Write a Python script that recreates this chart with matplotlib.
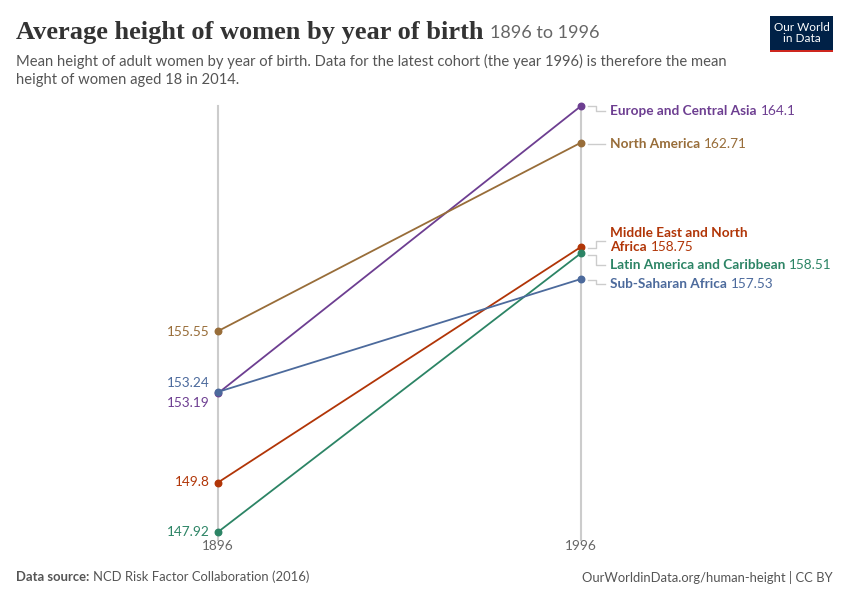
import matplotlib
matplotlib.use("Agg")
import matplotlib.pyplot as plt
from matplotlib.patches import Rectangle

regions = ["Europe and Central Asia", "North America", "Middle East and North Africa",
           "Latin America and Caribbean", "Sub-Saharan Africa"]
start_vals = [153.19, 155.55, 149.8, 147.92, 153.24]
end_vals = [164.1, 162.71, 158.75, 158.51, 157.53]
years = [1896, 1996]
colors = ["#6D3E91", "#986D39", "#B13507", "#2C8465", "#4C6A9C"]

W, H = 850, 600
fig = plt.figure(figsize=(8.5, 6), dpi=100)
fig.patch.set_facecolor("white")

def fx(px):
    return px / W

def fy(py):
    return 1 - py / H

# axes mapped so that 1896 -> x=218px, 1996 -> 581px; 147.92 -> y=532px, 164.1 -> y=106px
ax = fig.add_axes([fx(218), fy(532), fx(581) - fx(218), (532 - 106) / H])
ax.set_xlim(1896, 1996)
ax.set_ylim(147.92, 164.1)
ax.axis("off")

# vertical gridlines
for yr in years:
    ax.plot([yr, yr], [147.6, 164.1], color="#cccccc", lw=1.5, zorder=1, clip_on=False)

for r, s, e, c in zip(regions, start_vals, end_vals, colors):
    ax.plot(years, [s, e], color=c, lw=1.3, zorder=3, clip_on=False)
    ax.scatter(years, [s, e], color=c, s=22, zorder=4, clip_on=False)

font = "Lato"
lab_fs = 9.8

# left labels (pixel y positions)
left_y = {0: 403, 1: 332, 2: 482, 3: 532, 4: 383}
for i, py in left_y.items():
    fig.text(fx(210), fy(py), f"{start_vals[i]:g}", ha="right", va="center",
             color=colors[i], fontsize=lab_fs, family=font)

# x tick labels
for yr, px in zip(years, [218, 581]):
    fig.text(fx(px), fy(546), str(yr), ha="center", va="center", color="#666666",
             fontsize=lab_fs, family=font)

# right labels
lx = 610
right = [
    (0, [111], ["Europe and Central Asia"]),
    (1, [144], ["North America"]),
    (2, [233, 247], ["Middle East and North", "Africa"]),
    (3, [265], ["Latin America and Caribbean"]),
    (4, [284], ["Sub-Saharan Africa"]),
]
for i, pys, lines in right:
    for j, (py, t) in enumerate(zip(pys, lines)):
        if j == len(lines) - 1:
            tt = fig.text(fx(lx), fy(py), t, ha="left", va="center", color=colors[i],
                          fontsize=lab_fs, family=font, fontweight="bold")
            fig.canvas.draw()
            bb = tt.get_window_extent()
            fig.text(bb.x1 / W + 4 / W, fy(py), f"{end_vals[i]:g}", ha="left", va="center",
                     color=colors[i], fontsize=lab_fs, family=font)
        else:
            fig.text(fx(lx), fy(py), t, ha="left", va="center", color=colors[i],
                     fontsize=lab_fs, family=font, fontweight="bold")

# connector lines (pixel coords): from point to label
conn = [
    [(588, 106), (596, 106), (596, 111), (605, 111)],
    [(588, 144), (605, 144)],
    [(588, 248), (596, 248), (596, 241), (605, 241)],
    [(588, 255), (596, 255), (596, 265), (605, 265)],
    [(588, 280), (596, 280), (596, 284), (605, 284)],
]
for pts in conn:
    xs = [fx(p[0]) for p in pts]
    ys = [fy(p[1]) for p in pts]
    fig.add_artist(plt.Line2D(xs, ys, color="#cccccc", lw=1, transform=fig.transFigure))

# title
t = fig.text(fx(16), fy(32), "Average height of women by year of birth", ha="left", va="center",
             fontsize=19, family="Liberation Serif", fontweight="bold", color="#333333")
fig.canvas.draw()
bb = t.get_window_extent()
fig.text(bb.x1 / W + 6 / W, fy(33), "1896 to 1996", ha="left", va="center",
         fontsize=13, family=font, color="#666666")

fig.text(fx(16), fy(61), "Mean height of adult women by year of birth. Data for the latest cohort (the year 1996) is therefore the mean",
         ha="left", va="center", fontsize=10.65, family=font, color="#555555")
fig.text(fx(16), fy(80), "height of women aged 18 in 2014.",
         ha="left", va="center", fontsize=10.65, family=font, color="#555555")

# logo
fig.add_artist(Rectangle((fx(770), fy(52)), fx(833) - fx(770), (52 - 16) / H,
                         transform=fig.transFigure, facecolor="#002147", edgecolor="none"))
fig.add_artist(Rectangle((fx(770), fy(52)), fx(833) - fx(770), 2.5 / H,
                         transform=fig.transFigure, facecolor="#CE261E", edgecolor="none"))
fig.text(fx(801.5), fy(33), "Our World\nin Data", ha="center", va="center", color="white",
         fontsize=8.5, family=font, linespacing=1.0)

# footer
s = fig.text(fx(16), fy(577), "Data source:", ha="left", va="center", fontsize=9.4,
             family=font, fontweight="bold", color="#555555")
fig.canvas.draw()
bb = s.get_window_extent()
fig.text(bb.x1 / W + 4 / W, fy(577), "NCD Risk Factor Collaboration (2016)", ha="left", va="center",
         fontsize=9.4, family=font, color="#555555")
fig.text(fx(833), fy(577), "OurWorldinData.org/human-height | CC BY", ha="right", va="center",
         fontsize=9.4, family=font, color="#555555")

fig.savefig("out.png", dpi=100)
